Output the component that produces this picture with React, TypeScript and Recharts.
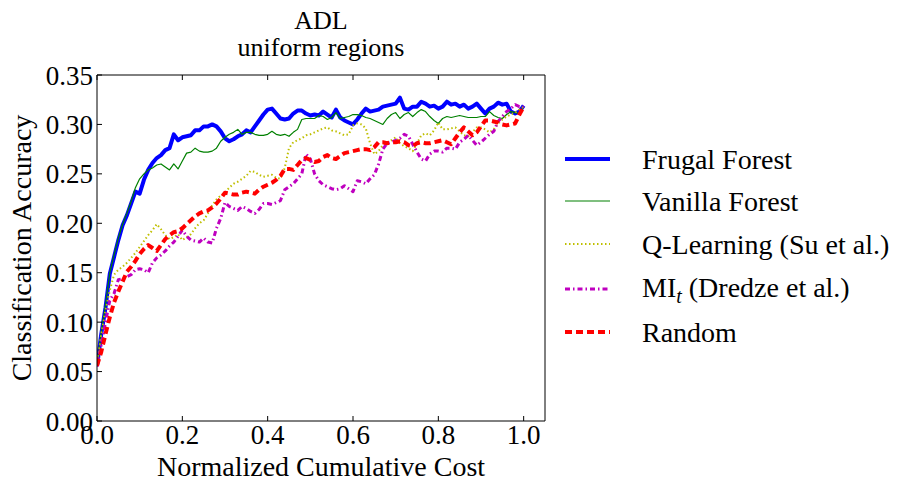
import { LineChart, Line, XAxis, YAxis } from 'recharts';

// normalized cumulative cost (x)
const cost = [
  0, 0.01, 0.02, 0.03, 0.04, 0.05, 0.06, 0.07, 0.08, 0.09,
  0.1, 0.11, 0.12, 0.13, 0.14, 0.15, 0.16, 0.17, 0.18, 0.19,
  0.2, 0.21, 0.22, 0.23, 0.24, 0.25, 0.26, 0.27, 0.28, 0.29,
  0.3, 0.31, 0.32, 0.33, 0.34, 0.35, 0.36, 0.37, 0.38, 0.39,
  0.4, 0.41, 0.42, 0.43, 0.44, 0.45, 0.46, 0.47, 0.48, 0.49,
  0.5, 0.51, 0.52, 0.53, 0.54, 0.55, 0.56, 0.57, 0.58, 0.59,
  0.6, 0.61, 0.62, 0.63, 0.64, 0.65, 0.66, 0.67, 0.68, 0.69,
  0.7, 0.71, 0.72, 0.73, 0.74, 0.75, 0.76, 0.77, 0.78, 0.79,
  0.8, 0.81, 0.82, 0.83, 0.84, 0.85, 0.86, 0.87, 0.88, 0.89,
  0.9, 0.91, 0.92, 0.93, 0.94, 0.95, 0.96, 0.97, 0.98, 0.99,
  1.0,
];

const frugal = [
  0.056, 0.088, 0.115, 0.149, 0.166, 0.183, 0.198, 0.208, 0.220, 0.232,
  0.230, 0.244, 0.254, 0.261, 0.266, 0.269, 0.274, 0.276, 0.290, 0.284,
  0.287, 0.288, 0.289, 0.294, 0.294, 0.298, 0.298, 0.300, 0.298, 0.293,
  0.286, 0.283, 0.285, 0.288, 0.290, 0.294, 0.292, 0.298, 0.304, 0.310,
  0.315, 0.316, 0.311, 0.306, 0.305, 0.306, 0.311, 0.314, 0.314, 0.311,
  0.309, 0.310, 0.309, 0.313, 0.310, 0.307, 0.315, 0.307, 0.304, 0.302,
  0.300, 0.305, 0.311, 0.316, 0.313, 0.314, 0.315, 0.318, 0.319, 0.320,
  0.321, 0.327, 0.316, 0.315, 0.318, 0.318, 0.323, 0.321, 0.318, 0.319,
  0.316, 0.318, 0.323, 0.320, 0.321, 0.318, 0.320, 0.316, 0.318, 0.321,
  0.316, 0.311, 0.316, 0.318, 0.322, 0.320, 0.321, 0.313, 0.311, 0.313,
  0.319,
];

const vanilla = [
  0.058, 0.090, 0.118, 0.150, 0.168, 0.185, 0.199, 0.210, 0.222, 0.236,
  0.245, 0.250, 0.254, 0.256, 0.259, 0.260, 0.257, 0.254, 0.260, 0.255,
  0.263, 0.271, 0.272, 0.276, 0.273, 0.272, 0.272, 0.273, 0.276, 0.283,
  0.287, 0.290, 0.292, 0.295, 0.290, 0.292, 0.292, 0.290, 0.289, 0.289,
  0.290, 0.293, 0.290, 0.289, 0.290, 0.288, 0.292, 0.295, 0.305, 0.306,
  0.306, 0.306, 0.309, 0.308, 0.305, 0.307, 0.312, 0.306, 0.307, 0.308,
  0.310, 0.310, 0.309, 0.307, 0.306, 0.304, 0.302, 0.300, 0.306, 0.310,
  0.312, 0.306, 0.310, 0.312, 0.308, 0.312, 0.315, 0.313, 0.308, 0.304,
  0.301, 0.306, 0.308, 0.307, 0.308, 0.309, 0.308, 0.307, 0.307, 0.307,
  0.308, 0.308, 0.313, 0.309, 0.307, 0.306, 0.310, 0.313, 0.312, 0.311,
  0.318,
];

const qLearning = [
  0.057, 0.088, 0.112, 0.132, 0.148, 0.153, 0.156, 0.160, 0.165, 0.170,
  0.176, 0.182, 0.188, 0.193, 0.199, 0.194, 0.188, 0.184, 0.186, 0.189,
  0.183, 0.186, 0.189, 0.195, 0.200, 0.203, 0.210, 0.218, 0.224, 0.228,
  0.231, 0.236, 0.240, 0.242, 0.245, 0.248, 0.253, 0.252, 0.249, 0.247,
  0.248, 0.249, 0.246, 0.245, 0.256, 0.276, 0.282, 0.284, 0.286, 0.289,
  0.290, 0.292, 0.294, 0.296, 0.297, 0.294, 0.293, 0.291, 0.289, 0.290,
  0.299, 0.301, 0.300, 0.296, 0.281, 0.270, 0.273, 0.279, 0.282, 0.284,
  0.287, 0.281, 0.278, 0.276, 0.273, 0.281, 0.289, 0.291, 0.289, 0.294,
  0.302, 0.295, 0.295, 0.296, 0.297, 0.293, 0.289, 0.288, 0.292, 0.297,
  0.297, 0.295, 0.292, 0.295, 0.301, 0.305, 0.308, 0.310, 0.312, 0.315,
  0.318,
];

const miT = [
  0.055, 0.077, 0.100, 0.122, 0.129, 0.143, 0.144, 0.146, 0.148, 0.153,
  0.154, 0.153, 0.150, 0.160, 0.165, 0.168, 0.172, 0.177, 0.181, 0.187,
  0.193, 0.187, 0.183, 0.182, 0.181, 0.185, 0.181, 0.180, 0.195, 0.205,
  0.221, 0.217, 0.215, 0.213, 0.217, 0.215, 0.212, 0.210, 0.214, 0.220,
  0.220, 0.219, 0.221, 0.223, 0.234, 0.237, 0.240, 0.245, 0.250, 0.270,
  0.265, 0.250, 0.243, 0.239, 0.237, 0.235, 0.234, 0.235, 0.238, 0.235,
  0.232, 0.243, 0.242, 0.240, 0.245, 0.249, 0.260, 0.275, 0.281, 0.282,
  0.284, 0.286, 0.290, 0.288, 0.280, 0.272, 0.265, 0.263, 0.270, 0.273,
  0.273, 0.272, 0.276, 0.276, 0.275, 0.282, 0.285, 0.289, 0.284, 0.279,
  0.282, 0.286, 0.290, 0.293, 0.303, 0.308, 0.313, 0.316, 0.320, 0.318,
  0.318,
];

const random = [
  0.056, 0.070, 0.088, 0.105, 0.120, 0.131, 0.141, 0.151, 0.156, 0.162,
  0.169, 0.174, 0.178, 0.175, 0.172, 0.178, 0.184, 0.188, 0.191, 0.192,
  0.195, 0.199, 0.203, 0.207, 0.210, 0.212, 0.213, 0.216, 0.220, 0.225,
  0.231, 0.230, 0.229, 0.229, 0.231, 0.232, 0.231, 0.230, 0.234, 0.237,
  0.239, 0.241, 0.244, 0.248, 0.255, 0.255, 0.254, 0.259, 0.264, 0.266,
  0.264, 0.262, 0.263, 0.267, 0.269, 0.266, 0.265, 0.268, 0.271, 0.272,
  0.273, 0.274, 0.275, 0.275, 0.274, 0.277, 0.282, 0.282, 0.281, 0.282,
  0.282, 0.283, 0.282, 0.279, 0.278, 0.281, 0.282, 0.281, 0.281, 0.282,
  0.283, 0.284, 0.282, 0.280, 0.286, 0.292, 0.297, 0.293, 0.289, 0.292,
  0.298, 0.304, 0.304, 0.303, 0.302, 0.300, 0.299, 0.300, 0.301, 0.310,
  0.318,
];

const xTicks = [0, 0.2, 0.4, 0.6, 0.8, 1.0];
const yTicks = [0, 0.05, 0.1, 0.15, 0.2, 0.25, 0.3, 0.35];

const data = cost.map((c, i) => ({
  cost: c,
  frugal: frugal[i],
  vanilla: vanilla[i],
  qLearning: qLearning[i],
  miT: miT[i],
  random: random[i],
}));

const FONT = 'Liberation Serif, serif';

const series = [
  { key: 'frugal', color: '#0000ff', width: 4, dash: undefined },
  { key: 'vanilla', color: '#008000', width: 1.2, dash: undefined },
  { key: 'qLearning', color: '#bfbf00', width: 2, dash: '1.5 2.5' },
  { key: 'miT', color: '#bf00bf', width: 3, dash: '5 3 1.5 3' },
  { key: 'random', color: '#ff0000', width: 4, dash: '7 4' },
];

const legendRows = [
  { y: 159, base: 169 },
  { y: 201, base: 211 },
  { y: 244, base: 254 },
  { y: 289, base: 297 },
  { y: 332, base: 342 },
];

const tickStyle = { fill: '#000', fontSize: 27, fontFamily: FONT };

export default function App() {
  return (
    <div style={{ position: 'absolute', left: 0, top: 0, background: '#fff', fontFamily: FONT }}>
      <LineChart
        width={909}
        height={485}
        data={data}
        margin={{ top: 74, right: 363, bottom: 34, left: 37 }}
        style={{ fontFamily: FONT }}
      >
        <XAxis
          dataKey="cost"
          type="number"
          domain={[0, 1.05]}
          ticks={xTicks}
          allowDataOverflow
          tickFormatter={(v) => v.toFixed(1)}
          tickSize={-5}
          tickMargin={9}
          height={30}
          stroke="#000"
          tick={tickStyle}
        />
        <XAxis
          xAxisId="top"
          orientation="top"
          dataKey="cost"
          type="number"
          domain={[0, 1.05]}
          ticks={xTicks}
          allowDataOverflow
          tickFormatter={() => ''}
          tickSize={-5}
          height={1}
          stroke="#000"
        />
        <YAxis
          domain={[0, 0.35]}
          ticks={yTicks}
          tickFormatter={(v) => v.toFixed(2)}
          tickSize={-5}
          tickMargin={9}
          width={60}
          stroke="#000"
          tick={tickStyle}
        />
        <YAxis
          yAxisId="right"
          orientation="right"
          domain={[0, 0.35]}
          ticks={yTicks}
          tickFormatter={() => ''}
          tickSize={-5}
          width={1}
          stroke="#000"
        />
        {series.map((s) => (
          <Line
            key={s.key}
            type="linear"
            dataKey={s.key}
            stroke={s.color}
            strokeWidth={s.width}
            strokeDasharray={s.dash}
            strokeLinejoin="round"
            dot={false}
            activeDot={false}
            isAnimationActive={false}
          />
        ))}

        {/* title */}
        <text x={321} y={29} textAnchor="middle" fontSize={26} fontFamily={FONT} fill="#000">ADL</text>
        <text x={321} y={56} textAnchor="middle" fontSize={26} fontFamily={FONT} fill="#000">uniform regions</text>

        {/* axis labels */}
        <text x={321} y={476} textAnchor="middle" fontSize={28} fontFamily={FONT} fill="#000">
          Normalized Cumulative Cost
        </text>
        <text
          x={31}
          y={248}
          textAnchor="middle"
          fontSize={28}
          fontFamily={FONT}
          fill="#000"
          transform="rotate(-90, 31, 248)"
        >
          Classification Accuracy
        </text>

        {/* legend */}
        {series.map((s, i) => (
          <line
            key={'lg-' + s.key}
            x1={565}
            x2={610}
            y1={legendRows[i].y}
            y2={legendRows[i].y}
            stroke={s.color}
            strokeWidth={s.width}
            strokeDasharray={s.dash}
          />
        ))}
        <text x={642} y={legendRows[0].base} fontSize={28} fontFamily={FONT} fill="#000">Frugal Forest</text>
        <text x={642} y={legendRows[1].base} fontSize={28} fontFamily={FONT} fill="#000">Vanilla Forest</text>
        <text x={642} y={legendRows[2].base} fontSize={28} fontFamily={FONT} fill="#000">Q-Learning (Su et al.)</text>
        <text x={642} y={legendRows[3].base} fontSize={28} fontFamily={FONT} fill="#000">
          MI
          <tspan fontStyle="italic" fontSize={20} dy={6}>t</tspan>
          <tspan dy={-6}> (Dredze et al.)</tspan>
        </text>
        <text x={642} y={legendRows[4].base} fontSize={28} fontFamily={FONT} fill="#000">Random</text>
      </LineChart>
    </div>
  );
}
